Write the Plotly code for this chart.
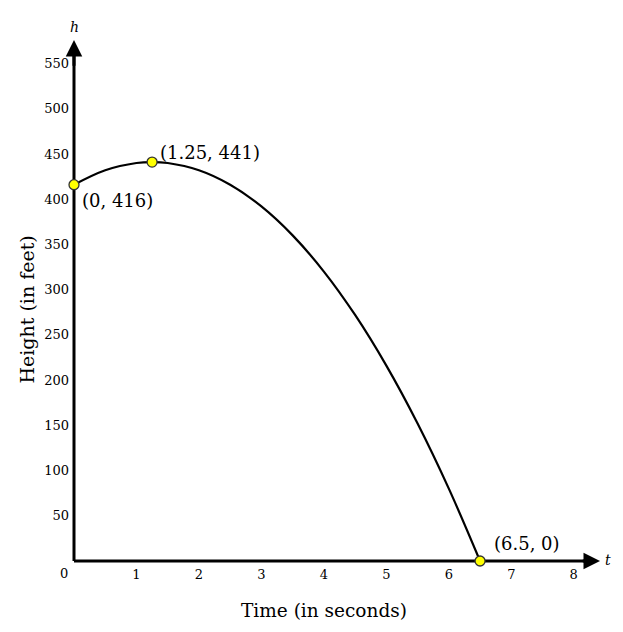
import plotly.graph_objects as go

# values
time_s = [0, 0.5, 1, 1.25, 1.5, 2, 2.5, 3, 3.5, 4, 4.5, 5, 5.5, 6, 6.5]
height_ft = [416, 432, 440, 441, 440, 432, 416, 392, 360, 320, 272, 216, 152, 80, 0]

# highlighted points
pt_t = [0, 1.25, 6.5]
pt_h = [416, 441, 0]
pt_labels = ["(0, 416)", "(1.25, 441)", "(6.5, 0)"]

x_ticks = [1, 2, 3, 4, 5, 6, 7, 8]
y_ticks = [50, 100, 150, 200, 250, 300, 350, 400, 450, 500, 550]

SERIF = "'DejaVu Serif', Georgia, serif"
T_MIN, T_MAX = -0.112, 8.42
H_MIN, H_MAX = -7.74, 576

fig = go.Figure()

# axis lines, kept under the curve and the points
fig.add_shape(type="line", x0=0, y0=0, x1=T_MAX - 0.1, y1=0, xref="x", yref="y",
              line=dict(color="black", width=3), layer="below")
fig.add_shape(type="line", x0=0, y0=0, x1=0, y1=H_MAX - 10, xref="x", yref="y",
              line=dict(color="black", width=3), layer="below")

fig.add_trace(go.Scatter(
    x=time_s, y=height_ft, mode="lines",
    line=dict(color="black", width=2.2, shape="spline"),
    cliponaxis=False, hoverinfo="skip",
))

fig.add_trace(go.Scatter(
    x=pt_t, y=pt_h, mode="markers",
    marker=dict(color="#ffff00", size=10, line=dict(color="#333333", width=1.3)),
    cliponaxis=False,
))

# arrowheads at the ends of the axis lines
fig.add_annotation(x=T_MAX, y=0, ax=T_MAX - 0.3, ay=0, xref="x", yref="y", axref="x", ayref="y",
                   showarrow=True, arrowhead=2, arrowsize=1.1, arrowwidth=3, arrowcolor="black", text="")
fig.add_annotation(x=0, y=H_MAX, ax=0, ay=H_MAX - 30, xref="x", yref="y", axref="x", ayref="y",
                   showarrow=True, arrowhead=2, arrowsize=1.1, arrowwidth=3, arrowcolor="black", text="")

# variable names at the arrow tips
fig.add_annotation(x=1, y=0, xref="paper", yref="y", text="<i>t</i>", showarrow=False,
                   xanchor="left", yanchor="middle", xshift=3, yshift=1,
                   font=dict(family=SERIF, size=14, color="black"))
fig.add_annotation(x=0, y=1, xref="x", yref="paper", text="<i>h</i>", showarrow=False,
                   xanchor="center", yanchor="bottom", yshift=3,
                   font=dict(family=SERIF, size=14, color="black"))

# origin label
fig.add_annotation(x=0, y=0, xref="x", yref="y", text="0", showarrow=False,
                   xanchor="center", yanchor="middle", xshift=-10, yshift=-12,
                   font=dict(family=SERIF, size=13, color="black"))

# axis titles
fig.add_annotation(x=4, y=0, xref="x", yref="y", text="Time (in seconds)", showarrow=False,
                   xanchor="center", yanchor="middle", yshift=-49,
                   font=dict(family=SERIF, size=18.5, color="black"))
fig.add_annotation(x=0, y=278, xref="x", yref="y", text="Height (in feet)", showarrow=False,
                   textangle=-90, xanchor="center", yanchor="middle", xshift=-47,
                   font=dict(family=SERIF, size=19, color="black"))

# point labels
offsets = [(6, -16), (6, 10), (12, 18)]
for t, h, lab, (dx, dy) in zip(pt_t, pt_h, pt_labels, offsets):
    fig.add_annotation(x=t, y=h, xref="x", yref="y", text=lab, showarrow=False,
                       xanchor="left", yanchor="middle", xshift=dx, yshift=dy,
                       font=dict(family=SERIF, size=18, color="black"))

# the page body has an 8px margin, so the figure is shrunk and shifted by it
fig.update_layout(
    width=607, height=616,
    margin=dict(l=59, r=15, t=32, b=56),
    plot_bgcolor="white", paper_bgcolor="white",
    showlegend=False,
    xaxis=dict(
        range=[T_MIN, T_MAX], tickvals=x_ticks, ticks="", showgrid=False, zeroline=False,
        showline=False, automargin=False, ticklabelstandoff=-3,
        tickfont=dict(family=SERIF, size=13, color="black"),
    ),
    yaxis=dict(
        range=[H_MIN, H_MAX], tickvals=y_ticks, ticks="", showgrid=False, zeroline=False,
        showline=False, automargin=False, ticklabelstandoff=-3,
        tickfont=dict(family=SERIF, size=13, color="black"),
    ),
)

fig.write_html("out.html")
